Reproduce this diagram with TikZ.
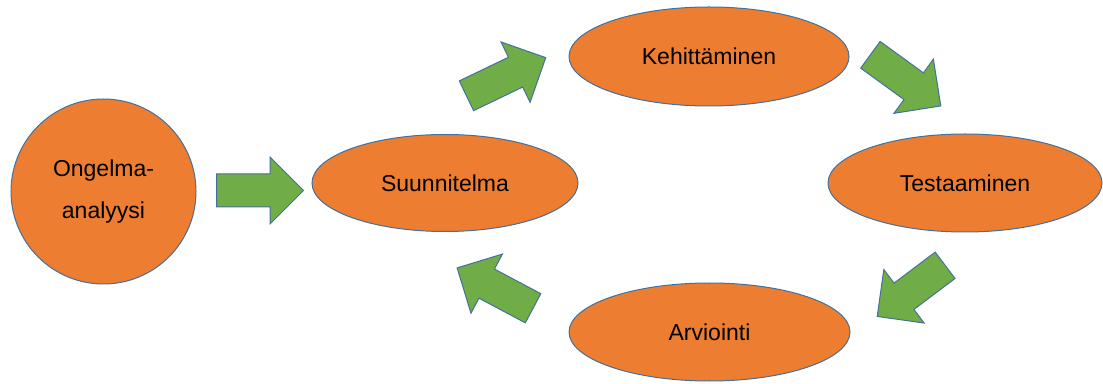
\documentclass[tikz,border=0pt]{standalone}
\usepackage{fontspec}
\setmainfont{Liberation Sans}
\usepackage{xcolor}
\usetikzlibrary{shapes, positioning}
\definecolor{phaseorange}{HTML}{ED7D31}
\definecolor{phaseblue}{HTML}{41719C}
\definecolor{arrowgreen}{HTML}{70AD47}
\tikzset{
  startnode/.style={draw=phaseblue, circle, line width=1pt, minimum size=185pt, align=center, fill=phaseorange, text=black, font=\fontsize{23}{42}\selectfont},
  phasenode/.style={draw=phaseblue, ellipse, line width=1pt, inner sep=0pt, align=center, fill=phaseorange, text=black, font=\fontsize{23}{28}\selectfont},
  blockarrow/.style={draw=phaseblue, single arrow, line width=1pt, fill=arrowgreen, anchor=tail, inner xsep=0pt, inner ysep=16pt, minimum width=1pt, single arrow head extend=17pt}
}
\begin{document}
\begin{tikzpicture}[x=1pt, y=1pt]
\useasboundingbox (0,0) rectangle (1103,383);

% Nodes
\node[startnode] (O) at (103.5,191.5) {Ongelma-\\analyysi};
\node[phasenode, minimum width=266pt, minimum height=97pt] (S) at (445,200) {Suunnitelma};
\node[phasenode, minimum width=280pt, minimum height=99pt] (K) at (709,326.5) {Kehittäminen};
\node[phasenode, minimum width=274pt, minimum height=98pt] (T) at (965,200) {Testaaminen};
\node[phasenode, minimum width=281pt, minimum height=98pt] (A) at (709.5,51) {Arviointi};

% Arrows
\node[blockarrow, minimum height=87pt] (OS) at (216,192.5) {};
\node[blockarrow, minimum height=88pt, rotate=25.7] (SK) at (466,287) {};
\node[blockarrow, minimum height=87pt, rotate=-36] (KT) at (870,328.5) {};
\node[blockarrow, minimum height=85pt, rotate=217] (TA) at (945.5,118) {};
\node[blockarrow, minimum height=86pt, rotate=152] (AS) at (533.5,74.5) {};

\end{tikzpicture}
\end{document}
